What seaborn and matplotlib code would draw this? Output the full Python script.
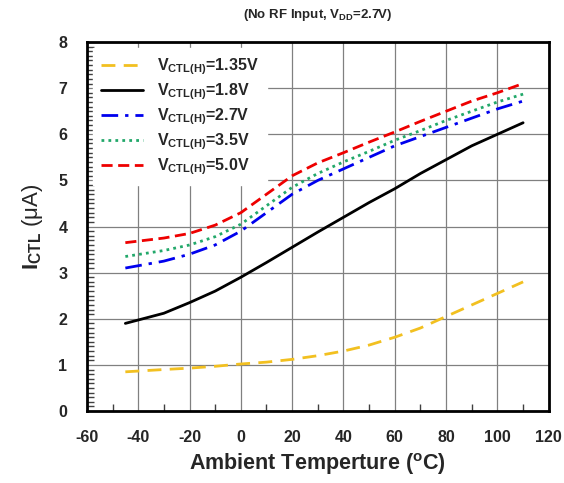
import matplotlib
matplotlib.use("Agg")
import matplotlib.pyplot as plt
import seaborn as sns
import pandas as pd
from matplotlib.ticker import MultipleLocator

sns.set_style("white")
plt.rcParams['font.family'] = ['Liberation Sans', 'DejaVu Sans']
plt.rcParams['axes.unicode_minus'] = False
plt.rcParams['mathtext.fontset'] = 'custom'
plt.rcParams['mathtext.rm'] = 'Liberation Sans'
plt.rcParams['mathtext.bf'] = 'Liberation Sans:bold'
plt.rcParams['mathtext.it'] = 'Liberation Sans:bold'
plt.rcParams['xtick.bottom'] = True
plt.rcParams['ytick.left'] = True

temps = [-45, -30, -20, -10, 0, 10, 20, 30, 40, 50, 60, 70, 80, 90, 100, 110]
i_135 = [0.85, 0.90, 0.93, 0.97, 1.02, 1.06, 1.12, 1.20, 1.30, 1.43, 1.60, 1.80, 2.05, 2.30, 2.55, 2.80]
i_18 = [1.90, 2.12, 2.35, 2.60, 2.90, 3.22, 3.55, 3.88, 4.20, 4.52, 4.82, 5.15, 5.45, 5.75, 6.00, 6.25]
i_27 = [3.10, 3.25, 3.40, 3.60, 3.90, 4.30, 4.70, 5.00, 5.25, 5.50, 5.75, 5.95, 6.15, 6.35, 6.55, 6.72]
i_35 = [3.35, 3.48, 3.60, 3.78, 4.05, 4.45, 4.85, 5.15, 5.40, 5.63, 5.87, 6.08, 6.30, 6.50, 6.70, 6.87]
i_50 = [3.65, 3.75, 3.85, 4.03, 4.30, 4.70, 5.10, 5.38, 5.60, 5.83, 6.05, 6.28, 6.50, 6.72, 6.90, 7.10]

labels = [r"$\mathbf{V_{CTL(H)}}$=1.35V", r"$\mathbf{V_{CTL(H)}}$=1.8V",
          r"$\mathbf{V_{CTL(H)}}$=2.7V", r"$\mathbf{V_{CTL(H)}}$=3.5V",
          r"$\mathbf{V_{CTL(H)}}$=5.0V"]
series = [i_135, i_18, i_27, i_35, i_50]
colors = ["#F2C020", "#000000", "#0000EE", "#22A86A", "#EE0000"]
styles = [(0, (5, 3)), "-", (0, (6, 2.5, 1.2, 2.5)), (0, (1, 1.5)), (0, (4, 2))]

fig = plt.figure(figsize=(5.64, 4.83), dpi=100)
ax = fig.add_axes([0.154, 0.149, 0.819, 0.764])

for lab, vals, c, ls in zip(labels, series, colors, styles):
    df = pd.DataFrame({"T": temps, "I": vals})
    sns.lineplot(data=df, x="T", y="I", ax=ax, color=c, linestyle=ls,
                 linewidth=2.0, label=lab)

ax.set_xlim(-60, 120)
ax.set_ylim(0, 8)
ax.xaxis.set_major_locator(MultipleLocator(20))
ax.xaxis.set_minor_locator(MultipleLocator(10))
ax.yaxis.set_major_locator(MultipleLocator(1))
ax.yaxis.set_minor_locator(MultipleLocator(0.1))
ax.grid(True, which="major", color="#808080", linewidth=0.9)
ax.tick_params(axis="both", which="major", direction="in", length=0, labelsize=11.5, pad=14)
ax.tick_params(axis="both", which="minor", direction="in", length=5, width=1.0,
               color="#404040", bottom=True, left=True)
for lbl in ax.get_xticklabels() + ax.get_yticklabels():
    lbl.set_fontweight("bold")
for sp in ax.spines.values():
    sp.set_linewidth(2.0)
    sp.set_color("black")

ax.set_xlabel("Ambient Temperture ($\\mathbf{^{o}}$C)", fontsize=15.5, fontweight="bold", labelpad=4)
ax.set_ylabel("$\\mathbf{I_{CTL}}$ (\u03bcA)", fontsize=16, labelpad=10)
ax.set_title("(No RF Input, $\\mathbf{V_{DD}}$=2.7V)", fontsize=9.5, fontweight="bold", pad=17)

leg = ax.legend(loc="upper left", frameon=True, fancybox=False, framealpha=1.0,
                edgecolor="white", fontsize=11.5, handlelength=2.6, handletextpad=0.9,
                labelspacing=0.28, borderaxespad=0.4, borderpad=0.5)
for t in leg.get_texts():
    t.set_fontweight("bold")

fig.savefig("out.png", dpi=100)
